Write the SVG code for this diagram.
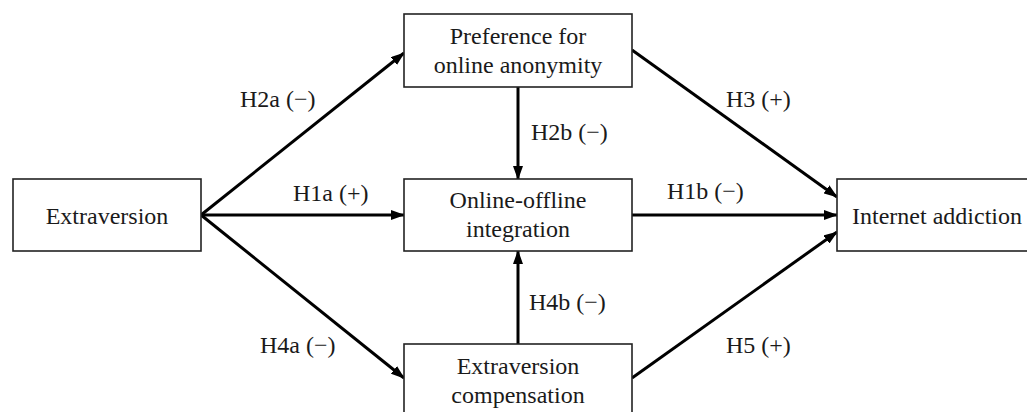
<svg xmlns="http://www.w3.org/2000/svg" width="1027" height="412" viewBox="0 0 1027 412">
  <style>
    .box { fill: #fff; stroke: #222; stroke-width: 1.6; }
    .t { font-family: "Liberation Serif", "Times New Roman", serif; font-size: 24px; fill: #1a1a1a; }
    .c { text-anchor: middle; }
    .lbl { font-family: "Liberation Serif", "Times New Roman", serif; font-size: 24px; fill: #1a1a1a; }
    .arr { stroke: #000; stroke-width: 3; fill: none; marker-end: url(#ah); }
  </style>
  <defs>
    <marker id="ah" markerUnits="userSpaceOnUse" markerWidth="14" markerHeight="10" refX="13" refY="5" orient="auto">
      <path d="M0,0 L14,5 L0,10 Z" fill="#000"/>
    </marker>
  </defs>
  <rect width="1027" height="412" fill="#fff"/>
  <g id="connectors">
    <line class="arr" x1="201" y1="215" x2="404" y2="53"/>
    <line class="arr" x1="201" y1="215" x2="404" y2="215"/>
    <line class="arr" x1="201" y1="215" x2="404" y2="378"/>
    <line class="arr" x1="518" y1="87" x2="518" y2="179"/>
    <line class="arr" x1="518" y1="344" x2="518" y2="251"/>
    <line class="arr" x1="632" y1="50" x2="837" y2="197"/>
    <line class="arr" x1="632" y1="215" x2="837" y2="215"/>
    <line class="arr" x1="632" y1="378" x2="837" y2="232"/>
    <text class="lbl" x="240" y="107">H2a (−)</text>
    <text class="lbl" x="293" y="201">H1a (+)</text>
    <text class="lbl" x="260" y="353">H4a (−)</text>
    <text class="lbl" x="531" y="140">H2b (−)</text>
    <text class="lbl" x="529" y="310">H4b (−)</text>
    <text class="lbl" x="726" y="107">H3 (+)</text>
    <text class="lbl" x="667" y="199">H1b (−)</text>
    <text class="lbl" x="726" y="353">H5 (+)</text>
  </g>
  <g id="extraversion">
    <rect class="box" x="13" y="179" width="188" height="72"/>
    <text class="t c" x="107" y="224">Extraversion</text>
  </g>
  <g id="anonymity">
    <rect class="box" x="404" y="14" width="228" height="73"/>
    <text class="t c" x="518" y="44">Preference for</text>
    <text class="t c" x="518" y="73">online anonymity</text>
  </g>
  <g id="integration">
    <rect class="box" x="404" y="179" width="228" height="72"/>
    <text class="t c" x="518" y="208">Online-offline</text>
    <text class="t c" x="518" y="237">integration</text>
  </g>
  <g id="compensation">
    <rect class="box" x="404" y="344" width="228" height="80"/>
    <text class="t c" x="518" y="374">Extraversion</text>
    <text class="t c" x="518" y="403">compensation</text>
  </g>
  <g id="internet-addiction">
    <rect class="box" x="837" y="179" width="200" height="72"/>
    <text class="t c" x="937" y="224">Internet addiction</text>
  </g>
</svg>
